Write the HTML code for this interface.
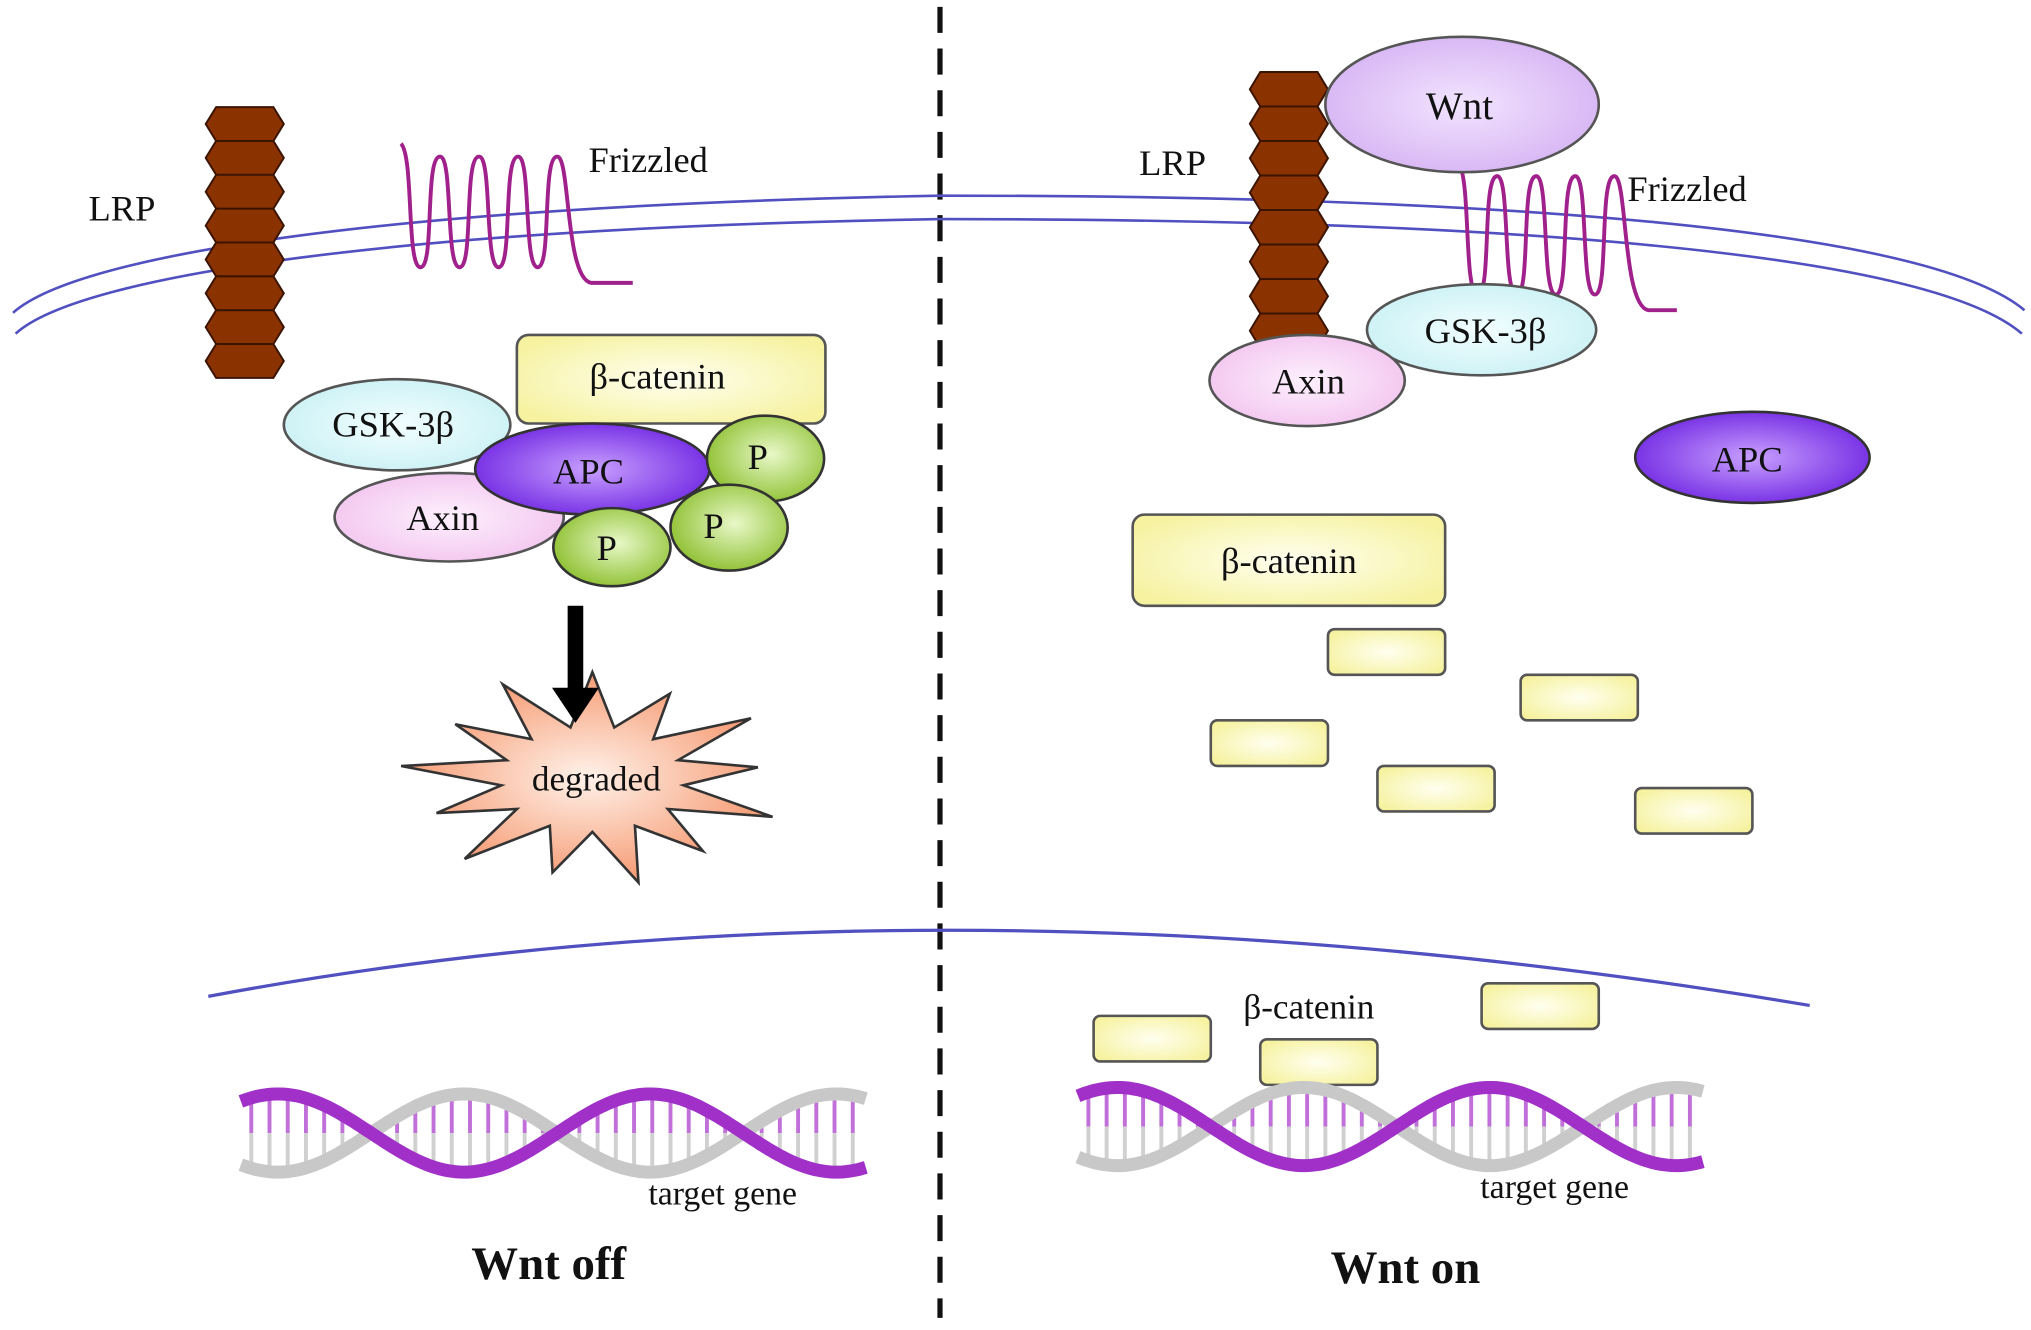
<!DOCTYPE html>
<html><head><meta charset="utf-8"><style>
html,body{margin:0;padding:0;background:#fff;}
svg{display:block;}
text{font-family:"Liberation Serif",serif;fill:#111;}
</style></head><body>
<svg id="s" width="2031" height="1330" viewBox="0 0 1560 1021" xmlns="http://www.w3.org/2000/svg">
<defs>
<radialGradient id="gy" cx="50%" cy="50%" r="60%"><stop offset="0" stop-color="#fffff0"/><stop offset="1" stop-color="#f6f2a0"/></radialGradient>
<radialGradient id="gc" cx="50%" cy="50%" r="60%"><stop offset="0" stop-color="#f2feff"/><stop offset="1" stop-color="#c8f0f4"/></radialGradient>
<radialGradient id="gp" cx="50%" cy="50%" r="60%"><stop offset="0" stop-color="#fdf0fd"/><stop offset="1" stop-color="#f2c2ee"/></radialGradient>
<radialGradient id="ga" cx="50%" cy="50%" r="60%"><stop offset="0" stop-color="#c8a0ff"/><stop offset="1" stop-color="#6a1ee0"/></radialGradient>
<radialGradient id="gg" cx="55%" cy="45%" r="60%"><stop offset="0" stop-color="#e8f8c8"/><stop offset="1" stop-color="#8cbf2e"/></radialGradient>
<radialGradient id="gw" cx="50%" cy="50%" r="60%"><stop offset="0" stop-color="#f2e4ff"/><stop offset="1" stop-color="#d4b0f2"/></radialGradient>
<radialGradient id="go" cx="50%" cy="50%" r="60%"><stop offset="0" stop-color="#fff2ea"/><stop offset="1" stop-color="#f48a5c"/></radialGradient>
</defs>
<!-- divider -->
<line x1="722" y1="5" x2="722" y2="1012" stroke="#111" stroke-width="4" stroke-dasharray="20 12"/>
<!-- membrane -->
<path d="M10,240 C60,195 300,158 722,150 C1150,150 1480,175 1555,238" fill="none" stroke="#5050c0" stroke-width="2"/>
<path d="M12,256 C60,212 300,175 722,168 C1150,168 1480,193 1553,256" fill="none" stroke="#5050c0" stroke-width="2"/>
<!-- nucleus -->
<path d="M160,765 Q722,660 1390,772" fill="none" stroke="#5050c0" stroke-width="2.5"/>
<g id="dyn"></g>
<!-- left complex -->
<rect x="397" y="257" width="237" height="68" rx="9" fill="url(#gy)" stroke="#555" stroke-width="2"/>
<text x="505" y="298" font-size="28" text-anchor="middle">β-catenin</text>
<ellipse cx="305" cy="326" rx="87" ry="35" fill="url(#gc)" stroke="#555" stroke-width="2"/>
<text x="302" y="335" font-size="28" text-anchor="middle">GSK-3β</text>
<ellipse cx="345" cy="397" rx="88" ry="34" fill="url(#gp)" stroke="#555" stroke-width="2"/>
<text x="340" y="407" font-size="28" text-anchor="middle">Axin</text>
<ellipse cx="455" cy="360" rx="90" ry="35" fill="url(#ga)" stroke="#333" stroke-width="2"/>
<text x="452" y="371" font-size="28" text-anchor="middle">APC</text>
<ellipse cx="588" cy="352" rx="45" ry="33" fill="url(#gg)" stroke="#333" stroke-width="2"/>
<text x="582" y="360" font-size="28" text-anchor="middle">P</text>
<ellipse cx="560" cy="405" rx="45" ry="33" fill="url(#gg)" stroke="#333" stroke-width="2"/>
<text x="548" y="413" font-size="28" text-anchor="middle">P</text>
<ellipse cx="470" cy="420" rx="45" ry="30" fill="url(#gg)" stroke="#333" stroke-width="2"/>
<text x="466" y="430" font-size="28" text-anchor="middle">P</text>
<g id="star"></g>
<!-- arrow -->
<rect x="436" y="465" width="12" height="68" fill="#000"/>
<polygon points="424,528 460,528 442,555" fill="#000"/>
<text x="458" y="607" font-size="27" text-anchor="middle">degraded</text>
<!-- labels -->
<text x="68" y="169" font-size="28">LRP</text>
<text x="452" y="132" font-size="28">Frizzled</text>
<text x="875" y="134" font-size="28">LRP</text>
<text x="1250" y="154" font-size="28">Frizzled</text>
<!-- right -->
<ellipse cx="1123" cy="80" rx="105" ry="52" fill="url(#gw)" stroke="#555" stroke-width="2"/>
<text x="1121" y="91" font-size="30" text-anchor="middle">Wnt</text>
<ellipse cx="1138" cy="253" rx="88" ry="35" fill="url(#gc)" stroke="#555" stroke-width="2"/>
<text x="1141" y="263" font-size="28" text-anchor="middle">GSK-3β</text>
<ellipse cx="1004" cy="292" rx="75" ry="35" fill="url(#gp)" stroke="#555" stroke-width="2"/>
<text x="1005" y="302" font-size="28" text-anchor="middle">Axin</text>
<ellipse cx="1346" cy="351" rx="90" ry="35" fill="url(#ga)" stroke="#333" stroke-width="2"/>
<text x="1342" y="362" font-size="28" text-anchor="middle">APC</text>
<rect x="870" y="395" width="240" height="70" rx="9" fill="url(#gy)" stroke="#555" stroke-width="2"/>
<text x="990" y="440" font-size="28" text-anchor="middle">β-catenin</text>
<text x="955" y="782" font-size="27">β-catenin</text>
<text x="498" y="925" font-size="26">target gene</text>
<text x="1137" y="920" font-size="26">target gene</text>
<text x="362" y="982" font-size="36" font-weight="bold">Wnt off</text>
<text x="1022" y="985" font-size="36" font-weight="bold">Wnt on</text>
</svg>
<script>
var NS="http://www.w3.org/2000/svg",g=document.getElementById("dyn");
function el(t,a,p){var e=document.createElementNS(NS,t);for(var k in a)e.setAttribute(k,a[k]);(p||g).appendChild(e);return e;}
function lrp(cx,y0,n,h,w){for(var i=0;i<n;i++){var y=y0+i*h;el("polygon",{points:[cx-w/2+8,y,cx+w/2-8,y,cx+w/2,y+h/2,cx+w/2-8,y+h,cx-w/2+8,y+h,cx-w/2,y+h/2].join(" "),fill:"#8a3200",stroke:"#3a1400","stroke-width":1.5});}}
lrp(188,82,8,26,60);lrp(990,55,8,26.5,60);
function fz(x0,y0,yb,tail){var d="M"+x0+","+y0;var x=x0;for(var i=0;i<4;i++){d+=" C"+(x+10)+","+(y0+10)+" "+(x+4)+","+yb+" "+(x+15)+","+yb+" C"+(x+26)+","+yb+" "+(x+18)+","+(y0+10)+" "+(x+30)+","+(y0+10);x+=30;}
d+=" C"+(x+10)+","+(y0+10)+" "+(x+6)+","+(yb+8)+" "+(x+26)+","+(yb+12)+" L"+(x+tail)+","+(yb+12);el("path",{d:d,fill:"none",stroke:"#a0208c","stroke-width":3});}
fz(308,110,205,58);fz(1120,125,226,48);
var pts=[],cx=455,cy=598,n=13;for(var i=0;i<n*2;i++){var a=i*Math.PI/n-Math.PI/2,r=i%2?0.55:1;var rx=(i%4==0?148:128)*r,ry=(i%4==0?82:74)*r;pts.push((cx+rx*Math.cos(a)).toFixed(1)+","+(cy+ry*Math.sin(a)).toFixed(1));}
el("polygon",{points:pts.join(" "),fill:"url(#go)",stroke:"#333","stroke-width":2},document.getElementById("star"));
[[1020,483],[1168,518],[930,553],[1058,588],[1256,605],[840,780],[968,798],[1138,755]].forEach(function(p){el("rect",{x:p[0],y:p[1],width:90,height:35,rx:5,fill:"url(#gy)",stroke:"#555","stroke-width":2});});
function dna(x0,x1,cy,A,hp,xc){var s1="",s2="";for(var x=x0;x<=x1;x+=3){var y=A*Math.sin(Math.PI*(x-xc)/hp);s1+=(x==x0?"M":"L")+x+","+(cy+y).toFixed(1);s2+=(x==x0?"M":"L")+x+","+(cy-y).toFixed(1);}
for(var x=x0+8;x<x1;x+=14){var y=A*Math.sin(Math.PI*(x-xc)/hp);el("line",{x1:x,y1:cy-Math.abs(y),x2:x,y2:cy,stroke:"#c070d8","stroke-width":3});el("line",{x1:x,y1:cy,x2:x,y2:cy+Math.abs(y),stroke:"#d0d0d0","stroke-width":3});}
el("path",{d:s2,fill:"none",stroke:"#c8c8c8","stroke-width":10});el("path",{d:s1,fill:"none",stroke:"#a030c8","stroke-width":10});}
dna(185,665,870,30,143,285);dna(828,1310,865,30,143,930);
</script>
</body></html>
